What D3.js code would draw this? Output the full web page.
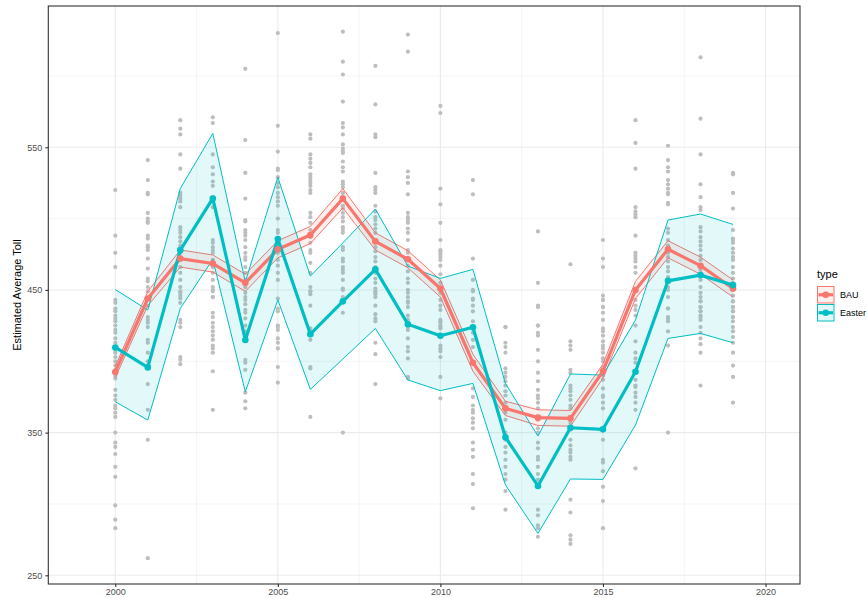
<!DOCTYPE html>
<html>
<head>
<meta charset="utf-8">
<script src="https://cdn.jsdelivr.net/npm/d3@7"></script>
<style>
  body { margin: 0; background: #fff; }
  text { font-family: "Liberation Sans", Arial, sans-serif; }
</style>
</head>
<body>
<div id="chart"></div>
<script>
// Estimated average toll, BAU vs Easter
const years = [2000, 2001, 2002, 2003, 2004, 2005, 2006, 2007, 2008, 2009,
               2010, 2011, 2012, 2013, 2014, 2015, 2016, 2017, 2018, 2019];

const bauMean  = [392.5, 444, 472, 468.5, 455, 478.5, 488.5, 514, 484, 471.5,
                  451, 399, 367, 360.5, 360, 393, 450, 478.5, 467, 451];
const bauUpper = [396.5, 449, 478, 474.5, 461, 484.5, 494.5, 521, 490, 477.5,
                  457, 405, 372, 366, 365.5, 398, 456, 484.5, 473, 457];
const bauLower = [388.5, 439, 466, 462.5, 449, 472.5, 482.5, 507.5, 478, 465.5,
                  445, 393, 362, 355, 354.5, 388, 444, 472.5, 461, 445];

const easterMean  = [409.7, 395.7, 477.9, 514.1, 414.9, 485.7, 419, 442, 464.4, 426,
                     417.9, 423.8, 346.7, 312.6, 353.4, 352.3, 392.7, 456.4, 460.4, 453.4];
const easterUpper = [450.3, 435.9, 521.1, 559.7, 455.7, 529, 459.7, 483, 506.7, 466.7,
                     458.1, 464.4, 384.5, 347.6, 391.1, 390.3, 428.9, 499, 503.2, 495.9];
const easterLower = [371.6, 358.8, 437, 471.4, 378.6, 443, 380.3, 401.6, 423, 386.9,
                     379.4, 384.5, 313.3, 279.4, 317.5, 317.2, 355.3, 416, 419.5, 413];

// observed tolls, one list per year (grey dots)
const observed = [
  [520, 488, 476, 466, 443, 441, 437, 435, 432, 430, 428, 425, 422, 420, 416, 413, 410, 408, 406, 403, 400, 397, 394, 390, 388, 380, 376, 373, 369, 367, 364, 361, 350, 343, 340, 335, 326, 319, 299, 289, 283],
  [541, 527, 518, 517, 504, 500, 498, 497, 488, 486, 481, 480, 478, 472, 465, 458, 456, 452, 449, 444, 439, 431, 429, 427, 424, 415, 413, 406, 400, 384, 366, 345, 262],
  [569, 563, 559, 545, 535, 518, 516, 514, 512, 508, 494, 492, 490, 487, 484, 481, 478, 476, 471, 466, 462, 457, 452, 448, 444, 449, 446, 441, 429, 427, 424, 403, 401, 398],
  [571, 567, 545, 536, 531, 526, 523, 515, 512, 508, 485, 483, 480, 478, 476, 471, 466, 462, 457, 452, 449, 445, 450, 445, 434, 431, 427, 424, 421, 418, 415, 411, 409, 406, 393, 366],
  [605, 555, 532, 514, 499, 498, 492, 490, 488, 485, 480, 476, 473, 471, 466, 462, 457, 452, 448, 445, 443, 440, 436, 434, 430, 425, 421, 415, 401, 399, 394, 378, 372, 367],
  [630, 565, 547, 535, 534, 529, 525, 522, 518, 515, 512, 509, 500, 492, 490, 485, 481, 476, 471, 467, 462, 457, 444, 437, 435, 425, 424, 422, 416, 413, 409, 396, 385],
  [559, 556, 545, 542, 539, 536, 531, 529, 527, 525, 523, 520, 518, 504, 501, 497, 492, 487, 483, 478, 476, 469, 462, 452, 449, 447, 449, 439, 423, 421, 415, 396, 395, 361],
  [631, 610, 601, 582, 567, 564, 559, 552, 549, 547, 546, 540, 536, 533, 526, 524, 522, 518, 515, 509, 507, 504, 501, 498, 494, 492, 490, 480, 478, 472, 470, 466, 464, 462, 457, 451, 445, 450, 442, 434, 350],
  [607, 580, 559, 557, 532, 522, 520, 518, 509, 505, 501, 499, 496, 493, 490, 485, 480, 477, 473, 470, 466, 462, 458, 455, 451, 448, 445, 449, 447, 439, 433, 430, 428, 413, 405, 384],
  [629, 617, 533, 529, 525, 517, 504, 501, 499, 497, 493, 490, 485, 478, 476, 467, 463, 458, 455, 450, 445, 448, 441, 442, 438, 432, 429, 424, 422, 416, 410, 407, 402, 389, 388],
  [579, 574, 521, 510, 497, 485, 478, 477, 475, 473, 471, 467, 461, 455, 448, 443, 439, 436, 429, 427, 424, 428, 425, 423, 418, 411, 409, 407, 403, 389, 374],
  [527, 517, 472, 457, 450, 449, 444, 443, 439, 435, 428, 423, 420, 415, 410, 381, 375, 369, 366, 364, 360, 357, 353, 343, 338, 333, 321, 314, 297],
  [424, 424, 413, 410, 406, 395, 392, 389, 386, 383, 379, 376, 371, 367, 364, 359, 350, 345, 340, 336, 331, 326, 321, 317, 309, 296],
  [491, 455, 439, 438, 425, 425, 420, 418, 408, 400, 392, 386, 380, 376, 374, 371, 367, 359, 353, 350, 343, 339, 333, 331, 326, 321, 317, 296, 292, 285, 283, 277],
  [468, 414, 411, 408, 394, 392, 383, 381, 379, 376, 373, 369, 367, 361, 357, 352, 345, 341, 338, 336, 333, 331, 303, 294, 278, 275, 272],
  [485, 472, 466, 446, 443, 438, 443, 438, 434, 429, 423, 421, 418, 414, 411, 409, 406, 402, 400, 396, 394, 390, 387, 381, 376, 375, 371, 367, 353, 345, 331, 329, 323, 312, 302, 283],
  [569, 553, 535, 508, 505, 503, 501, 488, 476, 474, 472, 470, 466, 462, 443, 439, 436, 432, 425, 414, 406, 402, 399, 387, 383, 382, 378, 375, 371, 366, 325],
  [551, 541, 536, 533, 527, 524, 521, 518, 517, 511, 510, 493, 490, 485, 481, 479, 476, 473, 470, 466, 463, 459, 456, 452, 450, 445, 437, 431, 437, 430, 428, 421, 411, 350],
  [613, 570, 545, 524, 515, 508, 506, 494, 491, 487, 484, 481, 478, 474, 471, 464, 457, 452, 448, 445, 442, 438, 435, 431, 442, 438, 435, 432, 429, 424, 420, 416, 412, 406, 383],
  [532, 531, 518, 507, 492, 486, 485, 483, 479, 476, 473, 471, 466, 462, 458, 455, 450, 446, 442, 438, 435, 431, 442, 438, 435, 431, 428, 424, 421, 417, 413, 406, 397, 389, 371]
];

const seriesNames = ['BAU', 'Easter'];
const seriesColors = ['#F8766D', '#00BFC4'];
const xTicks = [2000, 2005, 2010, 2015, 2020];
const yTicks = [250, 350, 450, 550];

const width = 868, height = 598;
const margin = { left: 48.3, right: 68, top: 6, bottom: 14 };

const svg = d3.select('#chart')
  .append('svg')
  .attr('width', width)
  .attr('height', height);

const x = d3.scaleLinear()
  .domain([1997.94, 2021.06])
  .range([margin.left, width - margin.right]);

const y = d3.scaleLinear()
  .domain([243.9, 649])
  .range([height - margin.bottom, margin.top]);

// grid (minor then major)
const xMinor = [1997.5, 2002.5, 2007.5, 2012.5, 2017.5].filter(v => v > x.domain()[0]);
const yMinor = [300, 400, 500, 600];
const grid = svg.append('g');
grid.selectAll('.xminor').data(xMinor).enter().append('line')
  .attr('x1', d => x(d)).attr('x2', d => x(d))
  .attr('y1', y.range()[1]).attr('y2', y.range()[0])
  .style('stroke', '#ebebeb').style('stroke-width', 0.55);
grid.selectAll('.yminor').data(yMinor).enter().append('line')
  .attr('x1', x.range()[0]).attr('x2', x.range()[1])
  .attr('y1', d => y(d)).attr('y2', d => y(d))
  .style('stroke', '#ebebeb').style('stroke-width', 0.55);
grid.selectAll('.xmajor').data(xTicks).enter().append('line')
  .attr('x1', d => x(d)).attr('x2', d => x(d))
  .attr('y1', y.range()[1]).attr('y2', y.range()[0])
  .style('stroke', '#ebebeb').style('stroke-width', 1.1);
grid.selectAll('.ymajor').data(yTicks).enter().append('line')
  .attr('x1', x.range()[0]).attr('x2', x.range()[1])
  .attr('y1', d => y(d)).attr('y2', d => y(d))
  .style('stroke', '#ebebeb').style('stroke-width', 1.1);

// grey observation dots
const dots = [];
observed.forEach((vals, i) => vals.forEach(v => dots.push({ year: years[i], value: v })));
svg.append('g').selectAll('circle')
  .data(dots).enter().append('circle')
  .attr('cx', d => x(d.year))
  .attr('cy', d => y(d.value))
  .attr('r', 2.1)
  .style('fill', '#bebebe');

const series = [
  { name: 'BAU', mean: bauMean, lower: bauLower, upper: bauUpper },
  { name: 'Easter', mean: easterMean, lower: easterLower, upper: easterUpper }
];

const area = d3.area()
  .x((d, i) => x(years[i]))
  .y0(d => y(d[0]))
  .y1(d => y(d[1]));
const line = d3.line()
  .x((d, i) => x(years[i]))
  .y(d => y(d));

// ribbons
series.forEach((s, k) => {
  const band = s.lower.map((lo, i) => [lo, s.upper[i]]);
  svg.append('path')
    .attr('d', area(band))
    .style('fill', seriesColors[k])
    .style('fill-opacity', 0.11);
  [s.lower, s.upper].forEach(edge => {
    svg.append('path')
      .attr('d', line(edge))
      .style('fill', 'none')
      .style('stroke', seriesColors[k])
      .style('stroke-width', 1);
  });
});

// mean lines and points
series.forEach((s, k) => {
  svg.append('path')
    .attr('d', line(s.mean))
    .style('fill', 'none')
    .style('stroke', seriesColors[k])
    .style('stroke-width', 3.2)
    .style('stroke-linejoin', 'round');
});
series.forEach((s, k) => {
  svg.append('g').selectAll('circle')
    .data(s.mean).enter().append('circle')
    .attr('cx', (d, i) => x(years[i]))
    .attr('cy', d => y(d))
    .attr('r', 3.3)
    .style('fill', seriesColors[k]);
});

// panel border
svg.append('rect')
  .attr('x', x.range()[0]).attr('y', y.range()[1])
  .attr('width', x.range()[1] - x.range()[0])
  .attr('height', y.range()[0] - y.range()[1])
  .style('fill', 'none')
  .style('stroke', '#333333')
  .style('stroke-width', 1.1);

// axes
const xAxis = svg.append('g')
  .attr('transform', `translate(0,${y.range()[0]})`)
  .call(d3.axisBottom(x).tickValues(xTicks).tickSize(3).tickPadding(2).tickFormat(d3.format('d')));
const yAxis = svg.append('g')
  .attr('transform', `translate(${x.range()[0]},0)`)
  .call(d3.axisLeft(y).tickValues(yTicks).tickSize(3).tickPadding(3));
[xAxis, yAxis].forEach(a => {
  a.select('.domain').remove();
  a.selectAll('line').style('stroke', '#333333').style('stroke-width', 1.1);
  a.selectAll('text')
    .style('fill', '#4d4d4d')
    .style('font-size', '9px')
    .style('font-family', '"Liberation Sans", Arial, sans-serif');
});

svg.append('text')
  .attr('transform', `translate(21,${(y.range()[0] + y.range()[1]) / 2}) rotate(-90)`)
  .attr('text-anchor', 'middle')
  .style('font-size', '11px')
  .style('fill', '#000')
  .text('Estimated Average Toll');

// legend
const legend = svg.append('g').attr('transform', 'translate(817,0)');
legend.append('text')
  .attr('x', 0).attr('y', 278)
  .style('font-size', '11px')
  .text('type');
seriesNames.forEach((name, k) => {
  const top = 286 + k * 18;
  const g = legend.append('g');
  g.append('rect')
    .attr('x', 0.5).attr('y', top + 0.5)
    .attr('width', 16.5).attr('height', 16.5)
    .style('fill', seriesColors[k])
    .style('fill-opacity', 0.11)
    .style('stroke', seriesColors[k])
    .style('stroke-width', 1);
  g.append('line')
    .attr('x1', 1.5).attr('x2', 16)
    .attr('y1', top + 8.75).attr('y2', top + 8.75)
    .style('stroke', seriesColors[k])
    .style('stroke-width', 3.2);
  g.append('circle')
    .attr('cx', 8.75).attr('cy', top + 8.75).attr('r', 3.3)
    .style('fill', seriesColors[k]);
  g.append('text')
    .attr('x', 23).attr('y', top + 12)
    .style('font-size', '9px')
    .text(name);
});
</script>
</body>
</html>
